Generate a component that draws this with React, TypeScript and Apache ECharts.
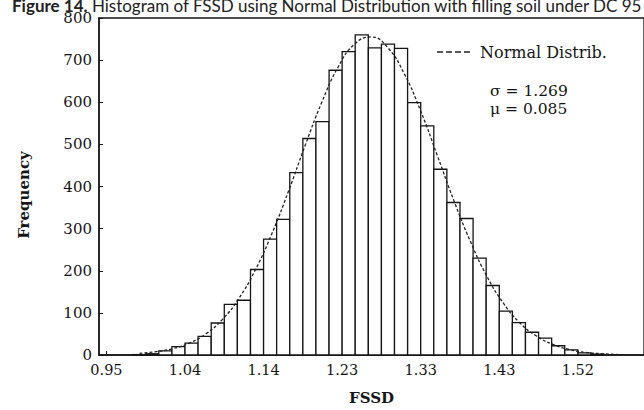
import React, { useEffect, useRef } from 'react';
import * as echarts from 'echarts';

// Histogram bins (left edge, FSSD) and counts
const binStarts = [
  0.9817, 0.9975, 1.0133, 1.0292, 1.045, 1.0608, 1.0767, 1.0925, 1.1083, 1.1242,
  1.14, 1.1558, 1.1717, 1.1875, 1.2033, 1.2192, 1.235, 1.2508, 1.2667, 1.2825,
  1.2983, 1.3142, 1.33, 1.3458, 1.3617, 1.3775, 1.3933, 1.4092, 1.425, 1.4408,
  1.4567, 1.4725, 1.4883, 1.5042, 1.52, 1.5358,
];
const binCounts = [
  1, 3, 10, 20, 28, 44, 76, 120, 130, 203,
  275, 322, 433, 514, 554, 676, 720, 760, 729, 738,
  728, 599, 544, 441, 362, 324, 230, 165, 104, 77,
  54, 40, 22, 12, 5, 2,
];
const BIN_WIDTH = 0.01583;

// Normal distribution curve
const curveX = [
  0.99, 1.01, 1.03, 1.05, 1.07, 1.09, 1.11, 1.13, 1.15, 1.17,
  1.19, 1.21, 1.23, 1.25, 1.27, 1.29, 1.31, 1.33, 1.35, 1.37,
  1.39, 1.41, 1.43, 1.45, 1.47, 1.49, 1.51, 1.53, 1.55, 1.57,
];
const curveY = [
  4, 8, 15, 28, 50, 84, 134, 202, 288, 388,
  496, 598, 683, 738, 755, 730, 668, 579, 474, 367,
  270, 187, 123, 76, 45, 25, 13, 6, 3, 1,
];

const xTickValues = [0.95, 1.045, 1.14, 1.235, 1.33, 1.425, 1.52];
const xTickLabels = ['0.95', '1.04', '1.14', '1.23', '1.33', '1.43', '1.52'];

const TITLE_BOLD = 'Figure 14.';
const TITLE_REST = ' Histogram of FSSD using Normal Distribution with filling soil under DC 95';
const LEGEND_TEXT = 'Normal Distrib.';
const SIGMA_TEXT = 'σ = 1.269';
const MU_TEXT = 'μ = 0.085';

const SERIF = '"DejaVu Serif", "Liberation Serif", serif';
const SANS = 'Lato, "Open Sans", sans-serif';
const INK = '#151515';

export default function App() {
  const ref = useRef<HTMLDivElement>(null);

  useEffect(() => {
    if (!ref.current) return;
    const chart = echarts.init(ref.current, null, { renderer: 'svg' });
    chart.setOption({
      animation: false,
      backgroundColor: '#ffffff',
      grid: {
        left: 99,
        top: 18,
        right: -10,
        bottom: 55,
        show: true,
        borderColor: INK,
        borderWidth: 1.3,
        backgroundColor: 'transparent',
        containLabel: false,
      },
      xAxis: {
        type: 'value',
        min: 0.941,
        max: 1.6,
        name: 'FSSD',
        nameLocation: 'middle',
        nameGap: 35,
        nameTextStyle: { fontFamily: SERIF, fontWeight: 'bold', fontSize: 15, color: INK },
        axisLine: { show: true, lineStyle: { color: INK, width: 1.5 } },
        axisTick: { show: true, inside: true, length: 4, customValues: xTickValues, lineStyle: { color: INK } },
        axisLabel: {
          show: true,
          customValues: xTickValues,
          margin: 7,
          fontFamily: SERIF,
          fontSize: 14.5,
          color: INK,
          formatter: (v: number) => {
            let best = 0;
            for (let i = 0; i < xTickValues.length; i++) {
              if (Math.abs(xTickValues[i] - v) < Math.abs(xTickValues[best] - v)) best = i;
            }
            return xTickLabels[best];
          },
        },
        splitLine: { show: false },
      },
      yAxis: {
        type: 'value',
        min: 0,
        max: 800,
        interval: 100,
        axisLine: { show: true, lineStyle: { color: INK, width: 1.5 } },
        axisTick: { show: true, inside: true, length: 4, lineStyle: { color: INK } },
        axisLabel: { margin: 7, fontFamily: SERIF, fontSize: 15, color: INK },
        splitLine: { show: false },
      },
      series: [
        {
          type: 'custom',
          name: 'Histogram',
          data: binStarts.map((s, i) => [s, binCounts[i]]),
          encode: { x: 0, y: 1 },
          renderItem: (params: any, api: any) => {
            const x0 = api.value(0);
            const h = api.value(1);
            const pTop = api.coord([x0, h]);
            const pBot = api.coord([x0 + BIN_WIDTH, 0]);
            return {
              type: 'rect',
              shape: { x: pTop[0], y: pTop[1], width: pBot[0] - pTop[0], height: pBot[1] - pTop[1] },
              style: { fill: '#ffffff', stroke: INK, lineWidth: 1.3 },
            };
          },
          z: 2,
        },
        {
          type: 'line',
          name: LEGEND_TEXT,
          data: curveX.map((x, i) => [x, curveY[i]]),
          smooth: true,
          showSymbol: false,
          lineStyle: { color: '#222', width: 1.3, type: [3, 2] },
          z: 3,
        },
      ],
      graphic: [
        {
          type: 'text',
          left: 12,
          top: -3,
          style: {
            text: `{b|${TITLE_BOLD}}${TITLE_REST}`,
            fontFamily: SANS,
            fontSize: 17,
            fill: '#222',
            rich: { b: { fontWeight: 'bold', fontFamily: SANS, fontSize: 17, color: '#222' } },
          },
        },
        {
          type: 'text',
          x: 24,
          y: 195,
          rotation: Math.PI / 2,
          style: {
            text: 'Frequency',
            fontFamily: SERIF,
            fontWeight: 'bold',
            fontSize: 15,
            fill: INK,
            align: 'center',
            verticalAlign: 'middle',
          },
        },
        {
          type: 'line',
          shape: { x1: 437, y1: 52, x2: 472, y2: 52 },
          style: { stroke: '#222', lineWidth: 1.3, lineDash: [6, 3] },
        },
        {
          type: 'text',
          x: 480,
          y: 52,
          style: { text: LEGEND_TEXT, fontFamily: SERIF, fontSize: 16, fill: INK, align: 'left', verticalAlign: 'middle' },
        },
        {
          type: 'text',
          x: 490,
          y: 91,
          style: { text: SIGMA_TEXT, fontFamily: SERIF, fontSize: 15.5, fill: INK, align: 'left', verticalAlign: 'middle' },
        },
        {
          type: 'text',
          x: 490,
          y: 109,
          style: { text: MU_TEXT, fontFamily: SERIF, fontSize: 15.5, fill: INK, align: 'left', verticalAlign: 'middle' },
        },
      ],
    });
    return () => chart.dispose();
  }, []);

  return (
    <div
      ref={ref}
      style={{ position: 'fixed', left: 0, top: 0, width: 644, height: 410, background: '#ffffff' }}
    />
  );
}
